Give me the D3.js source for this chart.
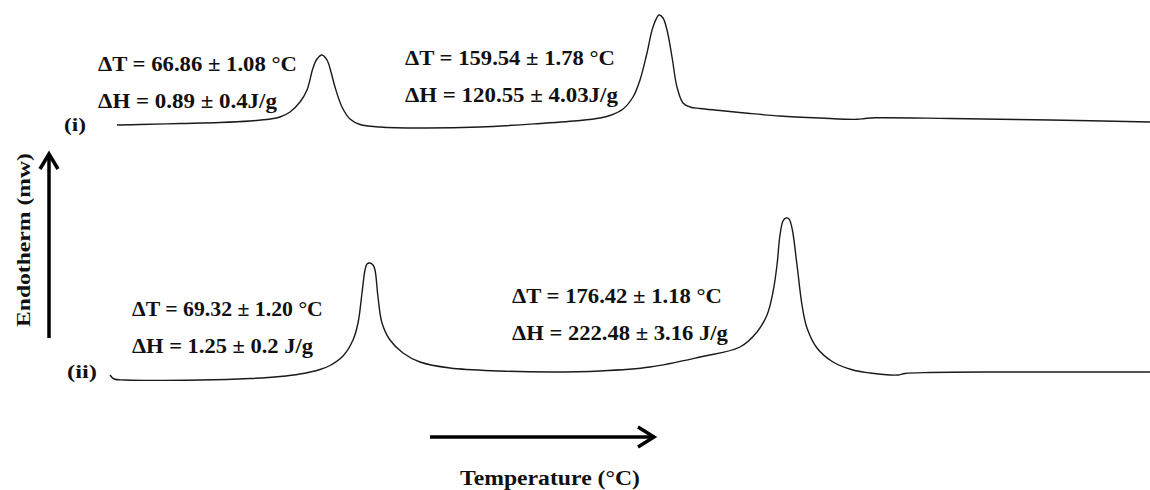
<!DOCTYPE html>
<html>
<head>
<meta charset="utf-8">
<script src="https://cdn.jsdelivr.net/npm/d3@7"></script>
<style>
  html, body { margin: 0; padding: 0; background: #fff; }
  svg { display: block; }
  text { font-family: "Liberation Serif", "Times New Roman", serif; font-weight: bold; fill: #111; }
</style>
</head>
<body>
<svg id="chart" width="1150" height="490"></svg>
<script>
// ---- Data (schematic DSC thermograms) ----
// position along temperature axis (arbitrary units) and heat-flow signal above baseline (mW, arbitrary)
const curveI_x = [11.7, 14.0, 18.0, 22.0, 25.0, 27.0, 28.0, 29.0, 30.0, 30.7, 31.3, 31.7, 32.2, 32.7, 33.1, 33.5, 34.2, 35.0, 36.0, 38.0, 42.0, 48.0, 54.0, 58.0, 60.0, 61.0, 62.3, 63.3, 64.0, 64.7, 65.3, 65.9, 66.3, 66.7, 67.2, 67.7, 68.3, 69.0, 70.0, 72.0, 75.0, 78.0, 82.0, 85.7, 86.5, 87.5, 95.0, 105.0, 115.0];
const curveI_y = [0.3, 0.35, 0.45, 0.55, 0.7, 0.9, 1.1, 1.6, 2.6, 3.8, 6.0, 6.9, 7.3, 6.8, 5.6, 4.1, 2.1, 0.9, 0.35, 0.1, 0.0, 0.1, 0.45, 0.75, 1.0, 1.25, 1.9, 3.1, 4.8, 7.5, 10.1, 11.3, 11.0, 9.8, 7.1, 4.1, 2.5, 2.1, 1.95, 1.75, 1.45, 1.2, 1.0, 0.87, 0.95, 1.02, 0.95, 0.8, 0.6];

const curveII_x = [11.0, 11.4, 12.5, 20.0, 25.0, 28.0, 30.0, 32.0, 33.0, 34.3, 35.3, 35.8, 36.2, 36.5, 36.7, 37.0, 37.3, 37.5, 37.8, 38.2, 39.0, 40.3, 42.0, 45.0, 50.0, 55.0, 60.0, 65.0, 70.0, 74.0, 75.7, 76.7, 77.3, 77.7, 78.0, 78.3, 78.6, 78.9, 79.2, 79.7, 80.2, 80.7, 81.7, 83.3, 85.3, 87.0, 89.0, 89.8, 90.5, 93.0, 100.0, 115.0];
const curveII_y = [0.5, 0.1, 0.0, 0.0, 0.15, 0.35, 0.6, 1.05, 1.45, 2.4, 4.0, 5.7, 8.7, 11.0, 11.6, 11.7, 11.5, 11.0, 8.3, 5.7, 4.0, 2.7, 1.8, 1.2, 0.9, 0.8, 0.9, 1.3, 2.3, 3.3, 4.8, 6.5, 8.8, 11.5, 14.5, 15.9, 16.2, 16.1, 15.2, 11.5, 7.5, 5.2, 3.2, 1.8, 1.0, 0.7, 0.5, 0.5, 0.65, 0.75, 0.8, 0.8];

// vertical offsets used to stack the two thermograms
const seriesNames = ["(i)", "(ii)"];
const seriesOffsets = [36.2, 11.0];

const annotI = [["ΔT = 66.86 ± 1.08 °C", "ΔH = 0.89 ± 0.4J/g"], ["ΔT = 159.54 ± 1.78 °C", "ΔH = 120.55 ± 4.03J/g"]];
const annotII = [["ΔT = 69.32 ± 1.20 °C", "ΔH = 1.25 ± 0.2 J/g"], ["ΔT = 176.42 ± 1.18 °C", "ΔH = 222.48 ± 3.16 J/g"]];

const xLabel = "Temperature (°C)";
const yLabel = "Endotherm (mw)";

// ---- Drawing ----
const svg = d3.select("#chart");
const W = 1150, H = 490;

const x = d3.scaleLinear().domain([0, 115]).range([0, W]);
const y = d3.scaleLinear().domain([0, 49]).range([H, 0]);

const series = [
  { name: seriesNames[0], offset: seriesOffsets[0], pts: curveI_x.map((v, i) => [v, curveI_y[i]]) },
  { name: seriesNames[1], offset: seriesOffsets[1], pts: curveII_x.map((v, i) => [v, curveII_y[i]]) }
];

const line = d3.line().curve(d3.curveCatmullRom.alpha(0.5));

series.forEach(s => {
  svg.append("path")
    .attr("d", line(s.pts.map(p => [x(p[0]), y(p[1] + s.offset)])))
    .attr("fill", "none")
    .attr("stroke", "#1a1a1a")
    .attr("stroke-width", 1.4);
});

// helper: place text and scale it horizontally to a target width
function fitText(t, px, py, size, width, rotate) {
  const g = svg.append("g");
  const el = g.append("text").attr("x", 0).attr("y", 0).attr("font-size", size).text(t);
  const natural = el.node().getComputedTextLength();
  const sx = width / natural;
  const rot = rotate ? ` rotate(${rotate})` : "";
  g.attr("transform", `translate(${px},${py})${rot} scale(${sx},1)`);
  return g;
}

// series labels
fitText(seriesNames[0], 64, 131, 19, 22);
fitText(seriesNames[1], 67, 378, 19, 30);

// annotations
const annots = [
  { lines: annotI[0], x: 98, y: [71, 108], w: [199, 179] },
  { lines: annotI[1], x: 405, y: [65, 102], w: [210, 213] },
  { lines: annotII[0], x: 132, y: [316, 353], w: [191, 181] },
  { lines: annotII[1], x: 512, y: [303, 340], w: [210, 216] }
];
annots.forEach(a => {
  a.lines.forEach((t, i) => fitText(t, a.x, a.y[i], 22, a.w[i]));
});

// axis arrows
const arrowStyle = sel => sel.attr("fill", "none").attr("stroke", "#000")
  .attr("stroke-width", 3.5).attr("stroke-linecap", "butt").attr("stroke-linejoin", "miter");

svg.append("line").attr("x1", 49).attr("y1", 338).attr("x2", 49).attr("y2", 154).call(arrowStyle);
svg.append("path").attr("d", "M40,169 L49,154 L58,169").call(arrowStyle);

svg.append("line").attr("x1", 430).attr("y1", 437).attr("x2", 653).attr("y2", 437).call(arrowStyle);
svg.append("path").attr("d", "M638,427 L654,437 L638,447").call(arrowStyle);

fitText(xLabel, 460, 485, 20.5, 180);
fitText(yLabel, 30, 327, 19.5, 174, -90);
</script>
</body>
</html>
